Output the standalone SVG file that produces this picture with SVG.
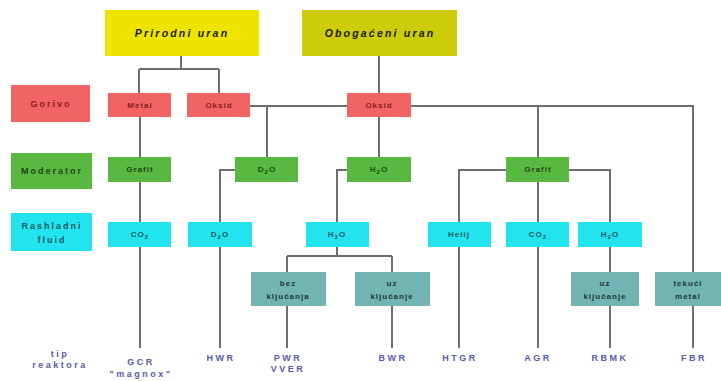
<svg xmlns="http://www.w3.org/2000/svg" width="721" height="381" viewBox="0 0 721 381">
<style>
text{font-family:"Liberation Sans",Arial,sans-serif;font-weight:bold;text-anchor:middle}
.t{font-size:10.5px;font-style:italic;letter-spacing:2.2px;fill:#1a1a00}
.b{font-size:8px;letter-spacing:1px}
.lab{font-size:9px;letter-spacing:2px}
.red{fill:#f26464}
.grn{fill:#58b840}
.cyn{fill:#22e4ee}
.tea{fill:#72b4b4}
.rt{fill:#8a1c1c}
.gt{fill:#1d4a12}
.ct{fill:#1b5a5e}
.tt{fill:#203838}
.r{font-size:9px;letter-spacing:2.5px;fill:#5a5aa8}
.c path{fill:none;stroke:#6e6e6e;stroke-width:2}
</style>
<rect width="721" height="381" fill="#ffffff"/>
<g class="c" id="connectors">
<path d="M181,56V69M139,69H219M139,69V93M219,69V93"/>
<path d="M379,56V93"/>
<path d="M250,106H347M267,106V157"/>
<path d="M411,106H693V272M538,106V157"/>
<path d="M140,117V157M140,182V222M140,247V348"/>
<path d="M235,170H220V222M220,247V348"/>
<path d="M379,117V157M347,170H337V222M337,247V256M287,256H392M287,256V272M392,256V272"/>
<path d="M287,306V348M392,306V348"/>
<path d="M506,170H459V222M569,170H610V222M538,182V222"/>
<path d="M459,247V348M538,247V348M610,247V272M610,306V348M693,306V348"/>
</g>
<g id="prirodni"><rect x="105" y="10" width="154" height="46" fill="#eee400"/><text class="t" x="182" y="37">Prirodni uran</text></g>
<g id="obogaceni"><rect x="302" y="10" width="155" height="46" fill="#cccc0a"/><text class="t" x="380" y="37">Obogaćeni uran</text></g>
<g id="gorivo"><rect class="red" x="11" y="85" width="79" height="37"/><text class="lab rt" x="51" y="107">Gorivo</text></g>
<g id="moderator"><rect class="grn" x="11" y="153" width="81" height="36"/><text class="lab gt" x="52" y="174">Moderator</text></g>
<g id="rashladni"><rect class="cyn" x="11" y="213" width="81" height="38"/><text class="lab ct" x="52" y="229">Rashladni</text><text class="lab ct" x="52" y="243">fluid</text></g>
<g id="metal"><rect class="red" x="108" y="93" width="63" height="24"/><text class="b rt" x="140" y="108">Metal</text></g>
<g id="oksid1"><rect class="red" x="187" y="93" width="63" height="24"/><text class="b rt" x="219" y="108">Oksid</text></g>
<g id="oksid2"><rect class="red" x="347" y="93" width="64" height="24"/><text class="b rt" x="379" y="108">Oksid</text></g>
<g id="grafit1"><rect class="grn" x="108" y="157" width="63" height="25"/><text class="b gt" x="140" y="172">Grafit</text></g>
<g id="d2o-m"><rect class="grn" x="235" y="157" width="63" height="25"/><text class="b gt" x="267" y="172">D<tspan font-size="6" dy="2">2</tspan><tspan dy="-2">O</tspan></text></g>
<g id="h2o-m"><rect class="grn" x="347" y="157" width="64" height="25"/><text class="b gt" x="379" y="172">H<tspan font-size="6" dy="2">2</tspan><tspan dy="-2">O</tspan></text></g>
<g id="grafit2"><rect class="grn" x="506" y="157" width="63" height="25"/><text class="b gt" x="538" y="172">Grafit</text></g>
<g id="co2-1"><rect class="cyn" x="108" y="222" width="63" height="25"/><text class="b ct" x="140" y="237">CO<tspan font-size="6" dy="2">2</tspan></text></g>
<g id="d2o-c"><rect class="cyn" x="188" y="222" width="64" height="25"/><text class="b ct" x="220" y="237">D<tspan font-size="6" dy="2">2</tspan><tspan dy="-2">O</tspan></text></g>
<g id="h2o-c1"><rect class="cyn" x="306" y="222" width="63" height="25"/><text class="b ct" x="337" y="237">H<tspan font-size="6" dy="2">2</tspan><tspan dy="-2">O</tspan></text></g>
<g id="helij"><rect class="cyn" x="428" y="222" width="63" height="25"/><text class="b ct" x="459" y="237">Helij</text></g>
<g id="co2-2"><rect class="cyn" x="506" y="222" width="63" height="25"/><text class="b ct" x="538" y="237">CO<tspan font-size="6" dy="2">2</tspan></text></g>
<g id="h2o-c2"><rect class="cyn" x="578" y="222" width="64" height="25"/><text class="b ct" x="610" y="237">H<tspan font-size="6" dy="2">2</tspan><tspan dy="-2">O</tspan></text></g>
<g id="bez"><rect class="tea" x="251" y="272" width="75" height="34"/><text class="b tt" x="288" y="286">bez</text><text class="b tt" x="288" y="299">ključanja</text></g>
<g id="uz1"><rect class="tea" x="355" y="272" width="75" height="34"/><text class="b tt" x="392" y="286">uz</text><text class="b tt" x="392" y="299">ključanje</text></g>
<g id="uz2"><rect class="tea" x="571" y="272" width="68" height="34"/><text class="b tt" x="605" y="286">uz</text><text class="b tt" x="605" y="299">ključanje</text></g>
<g id="tekuci"><rect class="tea" x="655" y="272" width="66" height="34"/><text class="b tt" x="688" y="286">tekući</text><text class="b tt" x="688" y="299">metal</text></g>
<g id="tip"><text class="r" x="60" y="357">tip</text><text class="r" x="60" y="368">reaktora</text></g>
<g id="gcr"><text class="r" x="141" y="365">GCR</text><text class="r" x="141" y="377" font-size="8" letter-spacing="2">"magnox"</text></g>
<g id="hwr"><text class="r" x="221" y="361">HWR</text></g>
<g id="pwr"><text class="r" x="288" y="361">PWR</text><text class="r" x="288" y="372">VVER</text></g>
<g id="bwr"><text class="r" x="393" y="361">BWR</text></g>
<g id="htgr"><text class="r" x="460" y="361">HTGR</text></g>
<g id="agr"><text class="r" x="538" y="361">AGR</text></g>
<g id="rbmk"><text class="r" x="610" y="361">RBMK</text></g>
<g id="fbr"><text class="r" x="694" y="361">FBR</text></g>
</svg>
